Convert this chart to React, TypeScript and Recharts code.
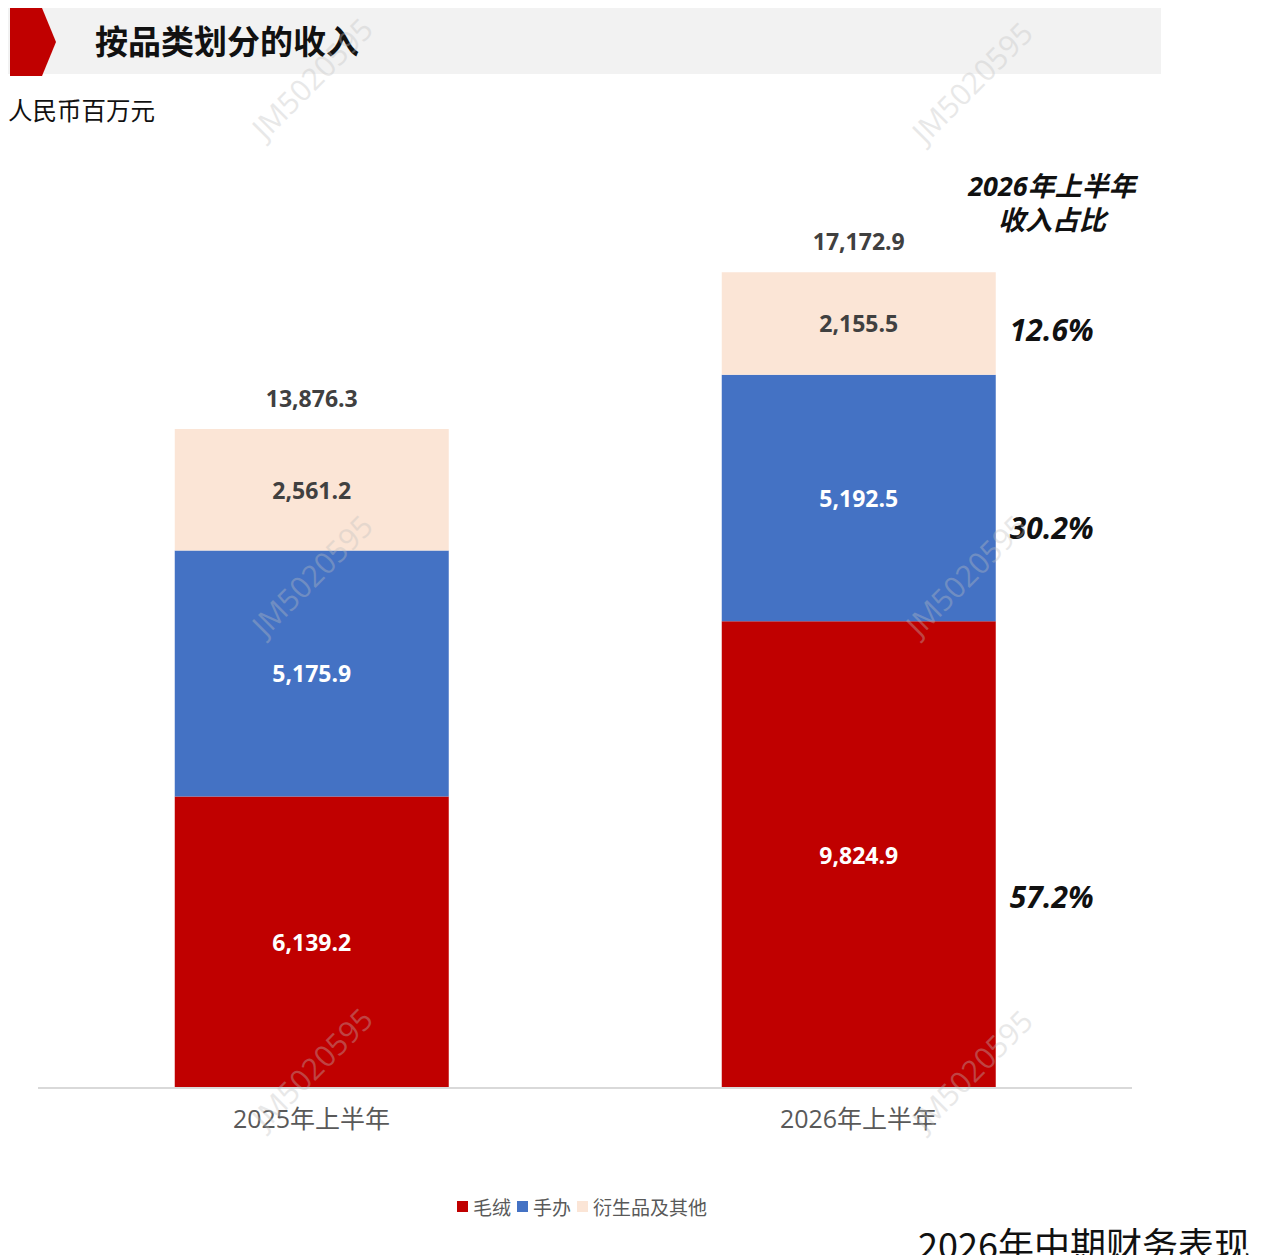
import React from "react";
import { BarChart, Bar, XAxis, YAxis, LabelList, Legend } from "recharts";

const categories = ["2025年上半年", "2026年上半年"];
const plush = [6139.2, 9824.9];
const figures = [5175.9, 5192.5];
const others = [2561.2, 2155.5];
const totals = [13876.3, 17172.9];
// share of revenue in 2026H1, shown at the right of the second bar
const shares2026 = ["57.2%", "30.2%", "12.6%"];
const seriesNames = ["毛绒", "手办", "衍生品及其他"];
const seriesColors = ["#c00000", "#4472c4", "#fbe5d6"];

const data = categories.map((name, i) => ({
  name,
  plush: plush[i],
  figures: figures[i],
  others: others[i],
  total: totals[i],
}));

const FONT = '"Open Sans", "Noto Sans CJK SC", sans-serif';
const CJK = '"Noto Sans CJK SC", sans-serif';
const fmt = (v) =>
  Number(v).toLocaleString("en-US", { minimumFractionDigits: 1, maximumFractionDigits: 1 });

const segLabel = (color) => (props) => {
  const { x, y, width, height, value } = props;
  return (
    <text
      x={x + width / 2}
      y={y + height / 2}
      textAnchor="middle"
      dominantBaseline="central"
      fill={color}
      fontSize={23}
      fontWeight={700}
      fontFamily={FONT}
    >
      {fmt(value)}
    </text>
  );
};

const shareLabel = (share, dy) => (props) => {
  const { x, y, width, height, index } = props;
  if (index !== 1) return null;
  return (
    <text
      x={x + width + 56}
      y={y + height / 2 + dy}
      textAnchor="middle"
      dominantBaseline="central"
      fill="#111"
      fontSize={30}
      fontWeight={700}
      fontStyle="italic"
      fontFamily={FONT}
    >
      {share}
    </text>
  );
};

const totalLabel = (props) => {
  const { x, y, width, index } = props;
  return (
    <text
      x={x + width / 2}
      y={y - 31}
      textAnchor="middle"
      dominantBaseline="central"
      fill="#404040"
      fontSize={23}
      fontWeight={700}
      fontFamily={FONT}
    >
      {fmt(totals[index])}
    </text>
  );
};

const renderLegend = () => (
  <div style={{ display: "flex", justifyContent: "center", alignItems: "center", fontFamily: CJK, fontSize: 19 }}>
    {seriesNames.map((n, i) => (
      <span key={n} style={{ display: "inline-flex", alignItems: "center", marginRight: 6, color: "#595959" }}>
        <span style={{ width: 11, height: 11, background: seriesColors[i], marginRight: 5, display: "inline-block" }} />
        {n}
      </span>
    ))}
  </div>
);

const watermarks = [
  [312, 78],
  [972, 82],
  [312, 575],
  [966, 575],
  [312, 1068],
  [972, 1070],
];

const sideTitle = {
  position: "absolute",
  left: 942,
  width: 220,
  textAlign: "center",
  fontSize: 27,
  fontWeight: 700,
  fontStyle: "italic",
  color: "#111",
  lineHeight: "30px",
  fontFamily: FONT,
};

export default function App() {
  return (
    <div
      style={{
        position: "absolute",
        left: 0,
        top: 0,
        width: 1280,
        height: 1255,
        background: "#fff",
        overflow: "hidden",
        fontFamily: FONT,
      }}
    >
      {/* header band */}
      <div style={{ position: "absolute", left: 8, top: 8, width: 1153, height: 66, background: "#f2f2f2" }} />
      <svg style={{ position: "absolute", left: 10, top: 8 }} width={50} height={68}>
        <polygon points="0,0 32,0 46,34 32,68 0,68" fill="#c00000" />
      </svg>
      <div
        style={{
          position: "absolute",
          left: 95,
          top: 17,
          fontSize: 33,
          fontWeight: 700,
          color: "#111",
          fontFamily: CJK,
          lineHeight: "46px",
        }}
      >
        按品类划分的收入
      </div>
      <div
        style={{
          position: "absolute",
          left: 8,
          top: 94,
          fontSize: 24.5,
          color: "#111",
          fontFamily: CJK,
          lineHeight: "32px",
        }}
      >
        人民币百万元
      </div>
      <div style={{ ...sideTitle, top: 171 }}>2026年上半年</div>
      <div style={{ ...sideTitle, top: 205 }}>收入占比</div>

      <div style={{ position: "absolute", left: 0, top: 0 }}>
        <BarChart
          width={1280}
          height={1255}
          data={data}
          margin={{ top: 233, right: 148, left: 38, bottom: 99 }}
          barCategoryGap="25%"
        >
          <XAxis
            dataKey="name"
            axisLine={{ stroke: "#d9d9d9", strokeWidth: 2 }}
            tickLine={false}
            tickMargin={16}
            height={40}
            tick={{ fill: "#595959", fontSize: 25, fontFamily: FONT }}
          />
          <YAxis hide domain={[0, 18000]} />
          <Legend
            content={renderLegend}
            wrapperStyle={{ position: "absolute", top: 1193, left: 38, width: 1094, height: 28 }}
          />
          <Bar dataKey="plush" name={seriesNames[0]} stackId="a" fill={seriesColors[0]} isAnimationActive={false}>
            <LabelList dataKey="plush" content={segLabel("#ffffff")} />
            <LabelList dataKey="plush" content={shareLabel(shares2026[0], 42)} />
          </Bar>
          <Bar dataKey="figures" name={seriesNames[1]} stackId="a" fill={seriesColors[1]} isAnimationActive={false}>
            <LabelList dataKey="figures" content={segLabel("#ffffff")} />
            <LabelList dataKey="figures" content={shareLabel(shares2026[1], 30)} />
          </Bar>
          <Bar dataKey="others" name={seriesNames[2]} stackId="a" fill={seriesColors[2]} isAnimationActive={false}>
            <LabelList dataKey="others" content={segLabel("#404040")} />
            <LabelList dataKey="others" content={shareLabel(shares2026[2], 6)} />
            <LabelList dataKey="total" content={totalLabel} />
          </Bar>
        </BarChart>
      </div>

      {/* watermarks */}
      <svg style={{ position: "absolute", left: 0, top: 0, pointerEvents: "none" }} width={1280} height={1255}>
        {watermarks.map(([x, y], i) => (
          <text
            key={i}
            x={x}
            y={y}
            textAnchor="middle"
            dominantBaseline="central"
            fontSize={30}
            fontFamily={FONT}
            fill="#bfbfbf"
            opacity={0.35}
            transform={`rotate(-45 ${x} ${y})`}
          >
            JM5020595
          </text>
        ))}
      </svg>

      <div
        style={{
          position: "absolute",
          left: 918,
          top: 1220,
          fontSize: 36,
          color: "#111",
          fontFamily: CJK,
          lineHeight: "46px",
          whiteSpace: "nowrap",
        }}
      >
        2026年中期财务表现
      </div>
    </div>
  );
}
